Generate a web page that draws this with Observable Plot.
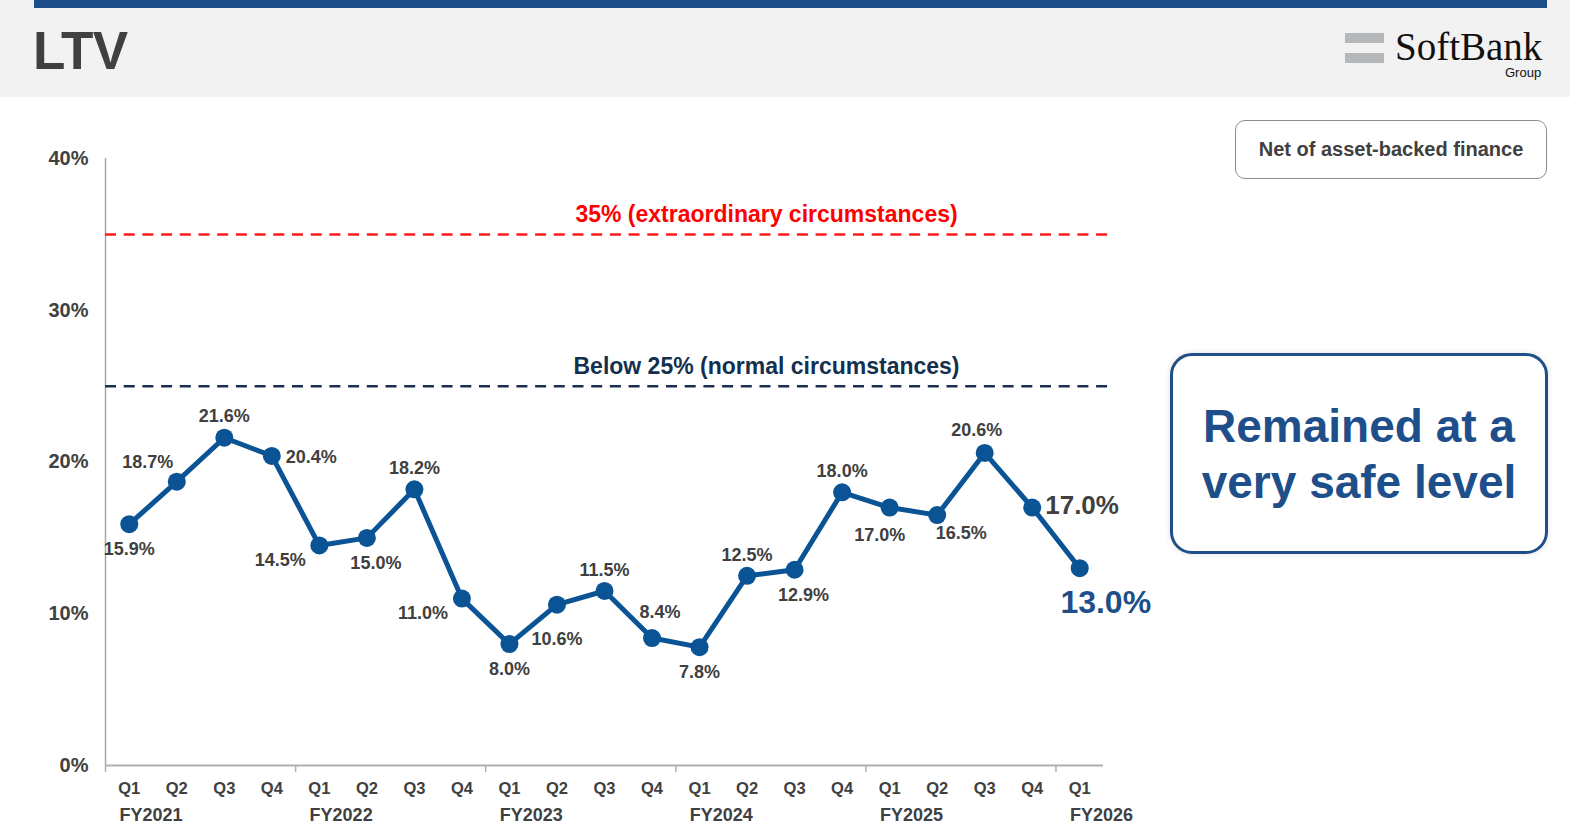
<!DOCTYPE html>
<html>
<head>
<meta charset="utf-8">
<script src="https://cdn.jsdelivr.net/npm/d3@7"></script>
<script src="https://cdn.jsdelivr.net/npm/@observablehq/plot@0.6"></script>
<style>
  html, body { margin: 0; padding: 0; }
  body { width: 1570px; height: 836px; overflow: hidden; background: #fff; position: relative;
         font-family: "Liberation Sans", Arial, sans-serif; }
  #header { position: absolute; left: 0; top: 0; width: 1570px; height: 97px; background: #f2f2f2; }
  #bar { position: absolute; left: 34px; top: 0; width: 1513px; height: 8px; background: #1c4f8a; }
  #title { position: absolute; left: 33px; top: 21px; font-size: 53px; line-height: 60px; font-weight: bold;
           color: #404040; letter-spacing: -0.5px; margin: 0; }
  .logobar { position: absolute; left: 1345px; width: 39px; height: 10px; background: #b5b8bb; }
  #logo { position: absolute; left: 1395px; top: 32px; font-family: "Liberation Serif", "DejaVu Serif", serif;
          font-size: 39px; line-height: 30px; height: 30px; color: #111; }
  #group { position: absolute; left: 1505px; top: 66px; font-size: 13px; line-height: 13px; color: #111; }
  #chart { position: absolute; left: 0; top: 100px; }
  .box { position: absolute; box-sizing: border-box; display: flex; align-items: center; justify-content: center;
         text-align: center; font-weight: bold; }
  #netbox { left: 1235px; top: 120px; width: 312px; height: 59px; border: 1.5px solid #8c8c8c; border-radius: 10px;
            font-size: 20px; color: #404040; }
  #safebox { left: 1170px; top: 353px; width: 378px; height: 201px; border: 3px solid #1f4f8a; border-radius: 22px;
             font-size: 46px; line-height: 56px; color: #1f4f8a; box-shadow: 0 0 6px rgba(0,0,0,0.12); }
</style>
</head>
<body>
<div id="header">
  <div id="bar"></div>
  <h1 id="title">LTV</h1>
  <div class="logobar" style="top:33px"></div>
  <div class="logobar" style="top:53px"></div>
  <div id="logo">SoftBank</div>
  <div id="group">Group</div>
</div>
<div id="chart"></div>
<div class="box" id="netbox">Net of asset-backed finance</div>
<div class="box" id="safebox">Remained at a<br>very safe level</div>
<script>
// ---- data ----
const quarters = ["Q1","Q2","Q3","Q4","Q1","Q2","Q3","Q4","Q1","Q2","Q3","Q4","Q1","Q2","Q3","Q4","Q1","Q2","Q3","Q4","Q1"];
const fiscalYears = ["FY2021","FY2021","FY2021","FY2021","FY2022","FY2022","FY2022","FY2022","FY2023","FY2023","FY2023","FY2023",
                     "FY2024","FY2024","FY2024","FY2024","FY2025","FY2025","FY2025","FY2025","FY2026"];
const ltv = [15.9, 18.7, 21.6, 20.4, 14.5, 15.0, 18.2, 11.0, 8.0, 10.6, 11.5, 8.4, 7.8, 12.5, 12.9, 18.0, 17.0, 16.5, 20.6, 17.0, 13.0];
const labelPlacement = ["below","aboveLeft","above","right","belowLeft","belowRight","above","belowLeft","below","belowFar","above",
                        "aboveRight","below","above","belowRight","above","belowLeftSmall","belowRightFar","aboveLeftSmall","rightBig","belowBig"];
const yTicks = [0, 10, 20, 30, 40];
const thresholdValues = [35, 25];
const thresholdLabels = ["35% (extraordinary circumstances)", "Below 25% (normal circumstances)"];
const thresholdColors = ["#ff0000", "#13304f"];
const thresholdLineColors = ["#ff1a1a", "#1b3050"];

// ---- build table ----
const n = ltv.length;
const data = ltv.map((v, i) => ({i, quarter: quarters[i], fy: fiscalYears[i], value: v, place: labelPlacement[i]}));
const yearStarts = data.filter((d, i) => i === 0 || fiscalYears[i] !== fiscalYears[i - 1]);
const thresholds = thresholdValues.map((v, k) => ({value: v, label: thresholdLabels[k], color: thresholdColors[k], line: thresholdLineColors[k]}));

const blue = "#0a5394";
const grey = "#404040";
const fmt = d => d.value.toFixed(1) + "%";

const offsets = {
  above: {dx: 0, dy: -21},
  below: {dx: 0, dy: 25},
  belowFar: {dx: 0, dy: 35},
  aboveLeft: {dx: -29, dy: -19},
  aboveLeftSmall: {dx: -8, dy: -23},
  aboveRight: {dx: 8, dy: -26},
  belowLeft: {dx: -39, dy: 15},
  belowLeftSmall: {dx: -10, dy: 28},
  belowRight: {dx: 9, dy: 25},
  belowRightFar: {dx: 24, dy: 18},
  right: {dx: 14, dy: 1, textAnchor: "start"}
};

const labelMarks = Object.entries(offsets).map(([key, o]) =>
  Plot.text(data.filter(d => d.place === key), {
    x: "i", y: "value", text: fmt, dx: o.dx, dy: o.dy, textAnchor: o.textAnchor || "middle",
    fontSize: 18, fontWeight: "bold", fill: grey
  })
);

const W = 1160, H = 736;
const chart = Plot.plot({
  width: W, height: H,
  marginLeft: 105, marginRight: W - 1113, marginTop: 58, marginBottom: 71,
  x: {type: "linear", domain: [-0.5, n - 0.5], range: [105, 1103]},
  y: {domain: [0, 40]},
  style: {fontFamily: "'Liberation Sans', Arial, sans-serif", background: "transparent", color: grey, overflow: "visible"},
  marks: [
    // axes
    Plot.axisY({ticks: yTicks, tickFormat: d => d + "%", tickSize: 0, tickPadding: 17, fontSize: 20,
                fontWeight: "bold", fill: grey, label: null}),
    Plot.axisX({ticks: d3.range(n), tickFormat: i => quarters[i], tickSize: 0, tickPadding: 17, fontSize: 16.5,
                fontWeight: "bold", fill: grey, label: null}),
    Plot.axisX({ticks: yearStarts.map(d => d.i - 0.5), tickFormat: () => "", tickSize: 7, stroke: "#b0b0b0",
                strokeWidth: 1.5, label: null}),
    Plot.text(yearStarts, {x: d => d.i - 0.5, y: 0, text: "fy", textAnchor: "start", dx: 14, dy: 50,
                           fontSize: 18, fontWeight: "bold", fill: grey}),
    Plot.ruleY([0], {x1: -0.5, x2: n - 0.5, stroke: "#b0b0b0", strokeWidth: 2}),
    Plot.ruleX([-0.5], {y1: 0, y2: 40, stroke: "#a6a6a6", strokeWidth: 1.5}),
    // thresholds
    Plot.ruleY(thresholds, {y: "value", stroke: "line", strokeWidth: 2.5, strokeDasharray: "11,7.7"}),
    Plot.text(thresholds, {y: "value", text: "label", fill: "color", dx: 157, dy: -20, fontSize: 23, fontWeight: "bold"}),
    // series
    Plot.line(data, {x: "i", y: "value", stroke: blue, strokeWidth: 5, strokeLinejoin: "round"}),
    Plot.dot(data, {x: "i", y: "value", r: 9, fill: blue, stroke: "none"}),
    ...labelMarks,
    Plot.text(data.filter(d => d.place === "rightBig"), {x: "i", y: "value", text: fmt, dx: 13, dy: -2, textAnchor: "start",
                                                      fontSize: 26, fontWeight: "bold", fill: grey}),
    Plot.text(data.filter(d => d.place === "belowBig"), {x: "i", y: "value", text: fmt, dx: 26, dy: 35,
                                                      fontSize: 32, fontWeight: "bold", fill: "#1f4f8a"})
  ]
});
chart.style.display = "block";
document.getElementById("chart").appendChild(chart);
</script>
</body>
</html>
